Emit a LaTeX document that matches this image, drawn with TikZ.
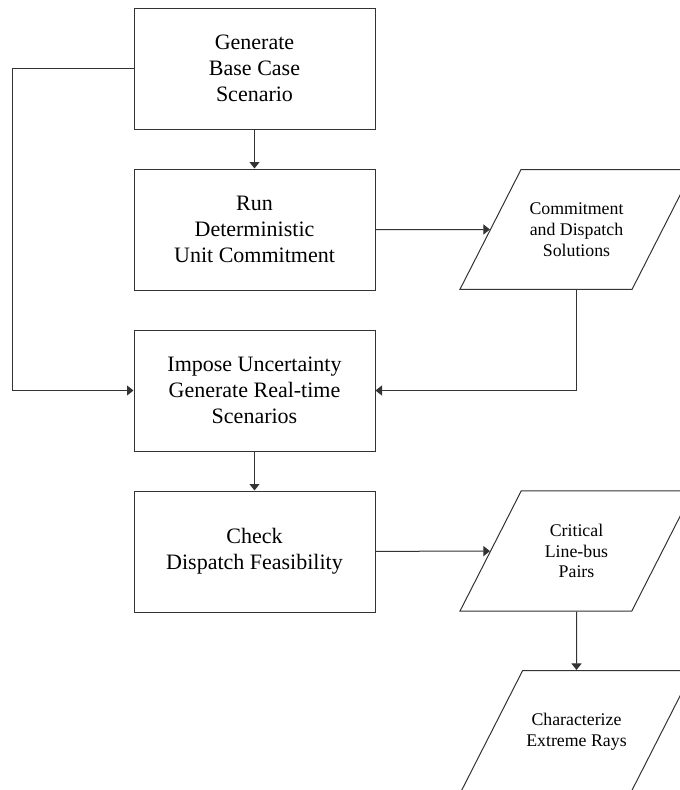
\documentclass[tikz,border=0pt]{standalone}
\usepackage{fontspec}
\setmainfont{Liberation Serif}
\usetikzlibrary{arrows.meta, shapes.geometric}

\begin{document}
\begin{tikzpicture}[x=1pt, y=-1pt, line width=1pt, black!80,
		every node/.style={font=\fontsize{22}{26}\selectfont, text=black},
		stepbox/.style={draw, minimum width=241pt, minimum height=121pt, align=center},
		databox/.style={draw, trapezium, trapezium left angle=63, trapezium right angle=117,
			trapezium stretches body, minimum width=233pt, inner ysep=33pt,
			align=center, font=\fontsize{17.8}{20.8}\selectfont},
		arr/.style={-{Triangle[length=6.5pt,width=10pt]}}]
		\useasboundingbox (0,0) rectangle (680,790);
		\node[stepbox] (gen) at (254.5,68.5) {Generate\\Base Case\\Scenario};
		\node[stepbox] (run) at (254.5,229.5) {Run\\Deterministic\\Unit Commitment};
		\node[stepbox] (imp) at (254.5,390.5) {Impose Uncertainty\\Generate Real-time\\Scenarios};
		\node[stepbox] (chk) at (254.5,551.5) {Check\\Dispatch Feasibility};
		\node[databox] (sol) at (576.5,229.5) {Commitment\\and Dispatch\\Solutions};
		\node[databox] (crit) at (576.5,551) {Critical\\Line-bus\\Pairs};
		\node[databox, inner ysep=43pt] (ray) at (576.5,732) {Characterize\\Extreme Rays};
		\draw[arr] (gen) -- (run); \draw[arr] (run) -- (sol);
		\draw[arr] (gen.west) -- ++(-121.5,0) |- (imp.west);
		\draw[arr] (sol.south) |- (imp.east);
		\draw[arr] (imp) -- (chk); \draw[arr] (chk) -- (crit);
		\draw[arr] (crit.south) -- (ray.north);
	\end{tikzpicture}
\end{document}
